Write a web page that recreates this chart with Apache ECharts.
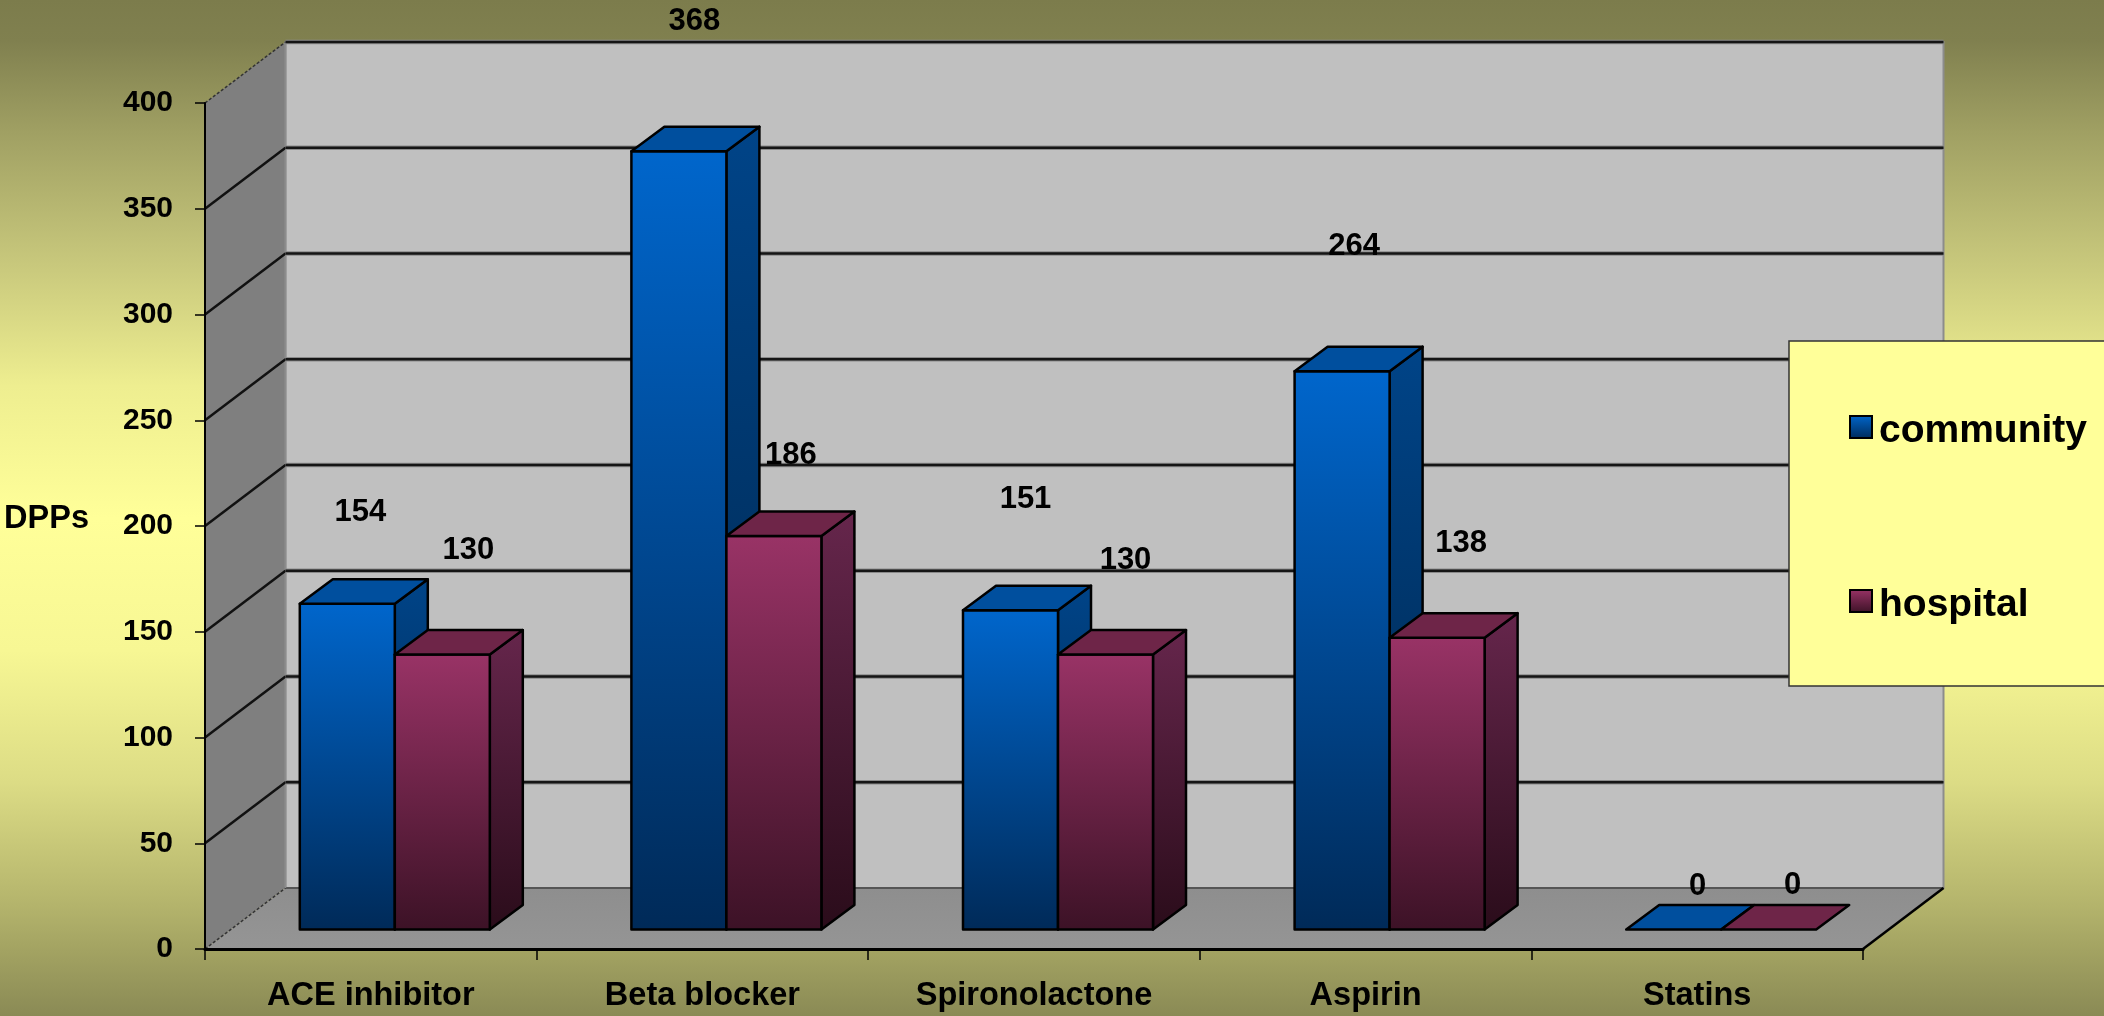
<!DOCTYPE html>
<html><head><meta charset="utf-8">
<style>html,body{margin:0;padding:0;background:#808050}#c{width:2104px;height:1016px}</style>
<script src="https://cdn.jsdelivr.net/npm/echarts@6/dist/echarts.min.js"></script>
</head><body><div id="c"></div>
<script>
const categories = ['ACE inhibitor', 'Beta blocker', 'Spironolactone', 'Aspirin', 'Statins'];
const community = [154, 368, 151, 264, 0];
const hospital = [130, 186, 130, 138, 0];
const yTicks = [0, 50, 100, 150, 200, 250, 300, 350, 400];

// hand-placed data labels of the original: offset from the top of each bar's front face
const communityLabelNudge = [[13, -91], [15.5, -130], [15, -111], [12, -125], [24, -43]];
const hospitalLabelNudge = [[26, -104], [17, -81], [20, -94], [24, -94], [24, -44]];

const FONT = '"Liberation Sans", Arial, sans-serif';
const WALL = [80.5, -61];      // depth vector of the chart box
const BAR_OFFSET = [24, -19.5]; // where bars stand on the floor
const BAR_DEPTH = [33, -24.5];
const BAR_FRAC = 0.2865;

const G = echarts.graphic.LinearGradient;
const grad = (a, b) => new G(0, 0, 0, 1, [{offset: 0, color: a}, {offset: 1, color: b}]);
const poly = (points, fill, extra) => ({type: 'polygon', shape: {points}, style: Object.assign({fill, stroke: '#000', lineWidth: 2.5, lineJoin: 'round'}, extra || {})});

const palettes = {
  community: {front: ['#0066cc', '#002a58'], side: ['#004488', '#002448'], top: '#004f9e'},
  hospital: {front: ['#993366', '#3c1226'], side: ['#66264c', '#2a0c1a'], top: '#6e2548'}
};

function barSeries(name, side, values, nudges, z) {
  const p = palettes[name];
  return {
    name, type: 'custom', z,
    itemStyle: {color: p.front[0]},
    data: values.map((v, i) => [i, v]),
    renderItem(params, api) {
      const i = api.value(0), v = api.value(1);
      const base = api.coord([i, 0]), top = api.coord([i, v]);
      const w = api.size([1, 0])[0] * BAR_FRAC;
      const cx = base[0] + BAR_OFFSET[0];
      const x0 = side < 0 ? cx - w : cx, x1 = x0 + w;
      const by = base[1] + BAR_OFFSET[1], ty = top[1] + BAR_OFFSET[1];
      const [dx, dy] = BAR_DEPTH;
      const n = nudges[i];
      const children = [];
      if (v > 0) {
        children.push(poly([[x1, ty], [x1 + dx, ty + dy], [x1 + dx, by + dy], [x1, by]], grad(p.side[0], p.side[1])));
        children.push(poly([[x0, ty], [x1, ty], [x1, by], [x0, by]], grad(p.front[0], p.front[1])));
      }
      children.push(poly([[x0, ty], [x1, ty], [x1 + dx, ty + dy], [x0 + dx, ty + dy]], p.top));
      children.push({type: 'text', z2: 50, style: {
        text: String(v), x: (x0 + x1) / 2 + n[0], y: ty + n[1],
        align: 'center', verticalAlign: 'middle',
        font: 'bold 31px ' + FONT, fill: '#000'
      }});
      return {type: 'group', children};
    }
  };
}

const wallSeries = {
  name: 'walls', type: 'custom', z: 0, silent: true,
  data: [[0, 0]],
  renderItem(params, api) {
    const band = api.size([1, 0])[0];
    const l = api.coord([0, 0])[0] - band / 2, r = l + band * categories.length;
    const y0 = api.coord([0, 0])[1], y1 = api.coord([0, 400])[1];
    const [dx, dy] = WALL;
    return {type: 'group', children: [
      {type: 'polygon', shape: {points: [[l, y1], [l + dx, y1 + dy], [l + dx, y0 + dy], [l, y0]]}, style: {fill: '#7f7f7f'}},
      {type: 'polygon', shape: {points: [[l + dx, y1 + dy], [r + dx, y1 + dy], [r + dx, y0 + dy], [l + dx, y0 + dy]]}, style: {fill: '#c0c0c0', stroke: '#8c8c8c', lineWidth: 2}},
      {type: 'polygon', shape: {points: [[l, y0], [r, y0], [r + dx, y0 + dy], [l + dx, y0 + dy]]},
        style: {fill: new G(0, 0, 0, 1, [{offset: 0, color: '#8e8e8e'}, {offset: 1, color: '#959595'}])}},
      {type: 'line', shape: {x1: l + dx, y1: y0 + dy, x2: r + dx, y2: y0 + dy}, style: {stroke: '#555', lineWidth: 2}},
      {type: 'line', shape: {x1: l, y1: y0, x2: l + dx, y2: y0 + dy}, style: {stroke: '#333', lineWidth: 1.5, lineDash: [3, 2]}},
      {type: 'line', shape: {x1: r, y1: y0, x2: r + dx, y2: y0 + dy}, style: {stroke: '#000', lineWidth: 2.5}},
      {type: 'line', shape: {x1: l + dx, y1: y1 + dy, x2: l + dx, y2: y0 + dy}, style: {stroke: '#8c8c8c', lineWidth: 1.5}}
    ]};
  }
};

const gridSeries = {
  name: 'gridlines', type: 'custom', z: 0.5, silent: true,
  data: yTicks.filter(v => v > 0).map(v => [0, v]),
  renderItem(params, api) {
    const v = api.value(1);
    const band = api.size([1, 0])[0];
    const l = api.coord([0, 0])[0] - band / 2, r = l + band * categories.length;
    const y = api.coord([0, v])[1];
    const [dx, dy] = WALL;
    const isTop = v === yTicks[yTicks.length - 1];
    return {type: 'group', children: [
      {type: 'line', shape: {x1: l, y1: y, x2: l + dx, y2: y + dy},
        style: isTop ? {stroke: '#333', lineWidth: 1.5, lineDash: [3, 2]} : {stroke: '#111', lineWidth: 2.5}},
      {type: 'line', shape: {x1: l + dx, y1: y + dy, x2: r + dx, y2: y + dy}, style: {stroke: '#8a8a8a', lineWidth: 4.5}},
      {type: 'line', shape: {x1: l + dx, y1: y + dy, x2: r + dx, y2: y + dy}, style: {stroke: '#151515', lineWidth: 2.5}}
    ]};
  }
};

const chart = echarts.init(document.getElementById('c'), null, {renderer: 'canvas'});
chart.setOption({
  animation: false,
  backgroundColor: new G(0, 0, 0, 1, [
    {offset: 0, color: '#7c7c4c'},
    {offset: 0.04, color: '#80804f'},
    {offset: 0.13, color: '#a0a063'},
    {offset: 0.26, color: '#c8c87c'},
    {offset: 0.38, color: '#eeee90'},
    {offset: 0.51, color: '#ffff99'},
    {offset: 0.64, color: '#f7f794'},
    {offset: 0.77, color: '#dcdc85'},
    {offset: 0.89, color: '#b4b46c'},
    {offset: 0.935, color: '#a3a362'},
    {offset: 1, color: '#8a8a55'}
  ]),
  grid: {left: 205, right: 241, top: 103, bottom: 67, outerBoundsMode: 'none'},
  xAxis: {
    type: 'category', data: categories, z: 1,
    axisLine: {show: true, onZero: false, lineStyle: {color: '#000', width: 3}},
    axisTick: {show: true, length: 11, lineStyle: {color: '#000', width: 1.5}},
    axisLabel: {margin: 31, color: '#000', fontFamily: FONT, fontWeight: 'bold', fontSize: 32.5, interval: 0},
    splitLine: {show: false}
  },
  yAxis: {
    type: 'value', min: 0, max: 400, interval: 50, z: 1,
    name: 'DPPs', nameLocation: 'middle', nameRotate: 0, nameGap: 116,
    nameTextStyle: {color: '#000', fontFamily: FONT, fontWeight: 'bold', fontSize: 32.5, verticalAlign: 'bottom', lineHeight: 14},
    axisLine: {show: true, lineStyle: {color: '#000', width: 2}},
    axisTick: {show: true, length: 10, lineStyle: {color: '#000', width: 1.5}},
    axisLabel: {margin: 32, color: '#000', fontFamily: FONT, fontWeight: 'bold', fontSize: 30},
    splitLine: {show: false}
  },
  legend: {
    orient: 'vertical', left: 1789, top: 341, z: 10,
    data: [
      {name: 'community', itemStyle: {color: grad('#0066cc', '#002a58'), borderColor: '#000', borderWidth: 2}},
      {name: 'hospital', itemStyle: {color: grad('#993366', '#3c1226'), borderColor: '#000', borderWidth: 2}}
    ],
    icon: 'rect', itemWidth: 22, itemHeight: 22, itemGap: 135,
    padding: [71, 30, 61, 60],
    backgroundColor: '#ffff99', borderColor: '#333', borderWidth: 1.5,
    formatter: '{t|{name}}',
    textStyle: {color: '#000', rich: {t: {color: '#000', fontFamily: FONT, fontWeight: 'bold', fontSize: 39, padding: [9, 0, 0, 2]}}},
    selectedMode: false
  },
  tooltip: {show: false},
  series: [
    wallSeries,
    gridSeries,
    barSeries('community', -1, community, communityLabelNudge, 2),
    barSeries('hospital', 1, hospital, hospitalLabelNudge, 3)
  ]
});
</script></body></html>
